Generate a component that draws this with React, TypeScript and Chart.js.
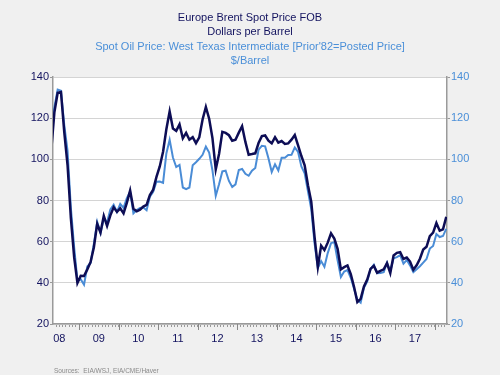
import React, { useEffect, useRef } from 'react';
import { Chart, registerables } from 'chart.js';

Chart.register(...registerables);

// Monthly averages, first month = April 2008
const START_YEAR = 2008;
const START_MONTH = 4;

const brent = [
  103.41, 122.8, 132.32, 132.72, 113.24, 97.23, 71.58, 52.45, 39.95,
  43.44, 43.32, 46.54, 50.18, 57.3, 68.61, 64.44, 72.51, 67.65, 72.77, 76.66, 74.46,
  76.17, 73.75, 78.83, 84.82, 75.95, 74.76, 75.58, 77.04, 77.84, 82.67, 85.28, 91.45,
  96.52, 103.72, 114.64, 123.26, 114.99, 113.83, 116.97, 110.22, 112.83, 109.55, 110.77, 107.87,
  110.69, 119.33, 125.45, 119.75, 110.34, 95.16, 102.62, 113.36, 112.86, 111.71, 109.06, 109.49,
  112.96, 116.05, 108.47, 102.25, 102.56, 102.92, 107.93, 111.28, 111.6, 109.08, 107.79, 110.76,
  108.12, 108.9, 107.48, 107.76, 109.54, 111.8, 106.77, 101.61, 97.09, 87.43, 79.44, 62.34,
  47.76, 58.1, 55.89, 59.52, 64.08, 61.48, 56.56, 46.52, 47.62, 48.43, 44.27, 38.01,
  30.7, 32.18, 38.21, 41.58, 46.74, 48.25, 44.95, 45.84, 46.57, 49.52, 44.73, 53.31,
  54.58, 54.87, 51.59, 52.31, 50.33, 46.37, 48.48, 51.7, 56.15, 57.51, 62.71, 64.37,
  69.08, 65.32, 66.02, 72.11,
];

const wti = [
  112.58, 125.4, 133.88, 133.37, 116.67, 104.11, 76.61, 57.31, 41.12,
  41.71, 39.09, 47.94, 49.65, 59.03, 69.64, 64.15, 71.05, 69.41, 75.72, 77.99, 74.47,
  78.33, 76.39, 81.2, 84.29, 73.74, 75.34, 76.32, 76.6, 75.24, 81.89, 84.25, 89.15,
  89.17, 88.58, 102.86, 109.53, 100.9, 96.26, 97.3, 86.33, 85.52, 86.32, 97.16, 98.56,
  100.27, 102.2, 106.16, 103.32, 94.66, 82.3, 87.9, 94.13, 94.51, 89.49, 86.53, 87.86,
  94.76, 95.31, 92.94, 92.02, 94.51, 95.77, 104.67, 106.57, 106.29, 100.54, 93.86, 97.63,
  94.62, 100.82, 100.8, 102.07, 102.18, 105.79, 103.59, 96.54, 93.21, 84.4, 75.79, 59.29,
  47.22, 50.58, 47.82, 54.45, 59.27, 59.82, 50.9, 42.87, 45.48, 46.22, 42.44, 37.19,
  31.68, 30.32, 37.55, 40.75, 46.71, 48.76, 44.65, 44.72, 45.18, 49.78, 45.66, 51.97,
  52.5, 53.47, 49.33, 51.06, 48.48, 45.18, 46.63, 48.04, 49.82, 51.58, 56.64, 57.88,
  63.7, 62.23, 62.73, 66.25,
];

const yearLabels = ['08', '09', '10', '11', '12', '13', '14', '15', '16', '17'];
const yearBoundaries = [2009, 2010, 2011, 2012, 2013, 2014, 2015, 2016, 2017, 2018];
const yTicks = [20, 40, 60, 80, 100, 120, 140];

const X_MIN = 2008.34;
const X_MAX = 2018.31;

const NAVY = '#13135f';
const BLUE = '#4a8fd8';
const FONT = "'Liberation Sans', Arial, Helvetica, sans-serif";

const toPoints = (arr: number[]) =>
  arr.map((v, i) => ({ x: START_YEAR + (START_MONTH - 1 + i + 0.5) / 12, y: v }));

const plotBg = {
  id: 'plotBg',
  beforeDraw(chart: any) {
    const { ctx, chartArea } = chart;
    ctx.save();
    ctx.fillStyle = '#ffffff';
    ctx.fillRect(chartArea.left, chartArea.top, chartArea.right - chartArea.left, chartArea.bottom - chartArea.top);
    ctx.restore();
  },
};

const yearTicks = {
  id: 'yearTicks',
  afterDraw(chart: any) {
    const { ctx, chartArea } = chart;
    const sx = chart.scales.x;
    ctx.save();
    ctx.strokeStyle = '#888888';
    ctx.lineWidth = 1;
    yearBoundaries.forEach((yr) => {
      const px = Math.round(sx.getPixelForValue(yr)) + 0.5;
      ctx.beginPath();
      ctx.moveTo(px, chartArea.bottom);
      ctx.lineTo(px, chartArea.bottom + 6);
      ctx.stroke();
    });
    ctx.restore();
  },
};

export default function App() {
  const ref = useRef<HTMLCanvasElement>(null);

  useEffect(() => {
    if (!ref.current) return;
    const chart = new Chart(ref.current, {
      type: 'line',
      data: {
        datasets: [
          {
            label: 'Europe Brent Spot Price FOB',
            data: toPoints(brent),
            borderColor: '#0d0d55',
            borderWidth: 2.5,
            pointRadius: 0,
            tension: 0,
            clip: 0,
            yAxisID: 'y',
          },
          {
            label: 'Spot Oil Price: West Texas Intermediate',
            data: toPoints(wti),
            borderColor: '#4a8cd6',
            borderWidth: 2,
            pointRadius: 0,
            tension: 0,
            clip: 0,
            yAxisID: 'y',
          },
        ],
      },
      options: {
        animation: false,
        responsive: false,
        parsing: false as any,
        events: [],
        layout: { padding: { left: 0, right: 0, top: 0, bottom: 27 } },
        plugins: {
          legend: { display: false },
          tooltip: { enabled: false },
          title: {
            display: true,
            text: ['Europe Brent Spot Price FOB', 'Dollars per Barrel'],
            color: NAVY,
            font: { family: FONT, size: 11, weight: 'normal', lineHeight: 14 / 11 },
            padding: { top: 11, bottom: 1 },
          },
          subtitle: {
            display: true,
            text: ["Spot Oil Price: West Texas Intermediate [Prior'82=Posted Price]", '$/Barrel'],
            color: BLUE,
            font: { family: FONT, size: 11, weight: 'normal', lineHeight: 14 / 11 },
            padding: { top: 0, bottom: 9 },
          },
        },
        scales: {
          x: {
            type: 'linear',
            min: X_MIN,
            max: X_MAX,
            afterBuildTicks: (scale: any) => {
              const t: any[] = [];
              for (let k = Math.ceil(scale.min * 12); k <= Math.floor(scale.max * 12); k++) {
                t.push({ value: k / 12 });
              }
              scale.ticks = t;
            },
            afterFit: (scale: any) => {
              scale.height = 24;
            },
            grid: {
              display: true,
              drawOnChartArea: false,
              drawTicks: true,
              tickLength: 3,
              tickColor: '#999999',
              tickWidth: 1,
            },
            border: { display: true, color: '#9a9a9a', width: 1.5 },
            ticks: {
              autoSkip: false,
              maxRotation: 0,
              minRotation: 0,
              padding: 5,
              color: NAVY,
              font: { family: FONT, size: 11 },
              callback: (v: any) => {
                const val = Number(v);
                const yr = Math.floor(val + 1e-9);
                if (Math.abs(val - yr - 0.5) < 1e-6) {
                  return yearLabels[yr - START_YEAR] ?? '';
                }
                return '';
              },
            },
          },
          y: {
            position: 'left',
            min: 20,
            max: 140,
            afterBuildTicks: (scale: any) => {
              scale.ticks = yTicks.map((v) => ({ value: v }));
            },
            afterFit: (scale: any) => {
              scale.width = 53;
            },
            grid: { color: '#d4d4d4', lineWidth: 1, tickLength: 3, tickColor: '#999999' },
            border: { display: true, color: '#9a9a9a', width: 1.5 },
            ticks: { color: NAVY, padding: 1, font: { family: FONT, size: 11 } },
          },
          y2: {
            position: 'right',
            min: 20,
            max: 140,
            afterBuildTicks: (scale: any) => {
              scale.ticks = yTicks.map((v) => ({ value: v }));
            },
            afterFit: (scale: any) => {
              scale.width = 53;
            },
            grid: { drawOnChartArea: false, tickLength: 3, tickColor: '#999999' },
            border: { display: true, color: '#9a9a9a', width: 1.5 },
            ticks: { color: BLUE, padding: 1, font: { family: FONT, size: 11 } },
          },
        },
      } as any,
      plugins: [plotBg, yearTicks],
    });
    return () => chart.destroy();
  }, []);

  return (
    <div
      style={{
        position: 'fixed',
        left: 0,
        top: 0,
        width: 500,
        height: 375,
        background: '#f0f0f0',
        overflow: 'hidden',
      }}
    >
      <canvas ref={ref} width={500} height={375} style={{ display: 'block' }} />
      <div
        style={{
          position: 'absolute',
          left: 54,
          top: 366,
          fontFamily: FONT,
          fontSize: 6.5,
          color: '#8a8a8a',
          whiteSpace: 'pre',
          lineHeight: '9px',
        }}
      >
        {'Sources:  EIA/WSJ, EIA/CME/Haver'}
      </div>
    </div>
  );
}
